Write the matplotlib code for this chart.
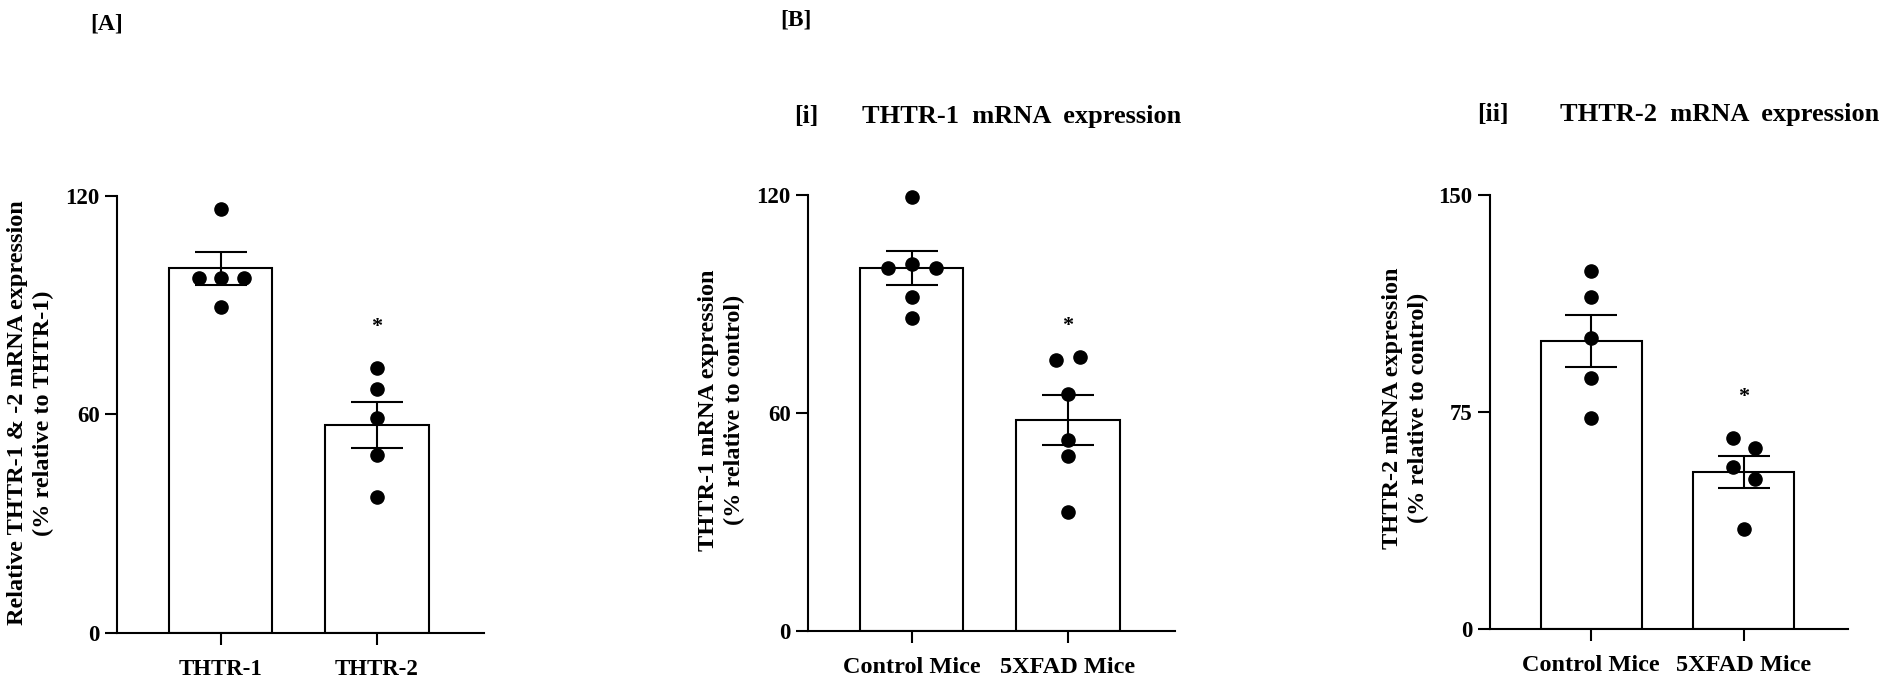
import matplotlib.pyplot as plt

plt.rcParams['font.family'] = ['Liberation Serif', 'DejaVu Serif']
plt.rcParams['font.weight'] = 'bold'

# ---------------------------
# Data
# ---------------------------

a_groups = ["THTR-1", "THTR-2"]
a_means = [100.0, 57.0]
a_sem = [4.5, 6.3]
a_thtr1 = [116.4, 97.3, 97.3, 97.3, 89.5]
a_thtr2 = [72.6, 66.8, 58.9, 48.9, 37.4]
a_star = 84

b_groups = ["Control Mice", "5XFAD Mice"]

bi_means = [100.0, 58.2]
bi_sem = [4.7, 6.8]
bi_control = [119.6, 101.2, 99.9, 99.9, 92.0, 86.3]
bi_5xfad = [74.8, 75.4, 65.2, 52.6, 48.3, 32.8]
bi_star = 84

bii_means = [99.5, 54.3]
bii_sem = [9.1, 5.4]
bii_control = [123.8, 114.7, 100.6, 86.6, 72.8]
bii_5xfad = [66.1, 62.5, 56.1, 51.9, 34.7]
bii_star = 80

# horizontal spread of the dots (beeswarm placement)
a_jit = ([0, -0.14, 0, 0.15, 0], [0, 0, 0, 0, 0])
bi_jit = ([0, 0, -0.154, 0.154, 0, 0], [-0.077, 0.077, 0, 0, 0, 0])
bii_jit = ([0, 0, 0, 0, 0], [-0.072, 0.075, -0.072, 0.075, 0])

W, H = 1896, 684
fig = plt.figure(figsize=(W / 100, H / 100), dpi=100)


def px_axes(x0, x1, y0, y1):
    return fig.add_axes([x0 / W, 1 - y1 / H, (x1 - x0) / W, (y1 - y0) / H])


def bar_panel(ax, groups, means, sem, points, jitter, ymax, yticks, star,
              xlab_size):
    x = [0, 1]
    ax.bar(x, means, width=0.66, color="white", edgecolor="black",
           linewidth=1.5, zorder=2)
    ax.errorbar(x, means, yerr=sem, fmt="none", ecolor="black",
                elinewidth=1.5, capsize=18.5, capthick=1.5, zorder=3)
    for i, vals in enumerate(points):
        xs = [x[i] + j for j in jitter[i]]
        ax.scatter(xs, vals, s=90, color="black", zorder=4, clip_on=False)
    ax.text(1, star, "*", ha="center", va="center", fontsize=16)

    ax.set_xlim(-0.665, 1.685)
    ax.set_ylim(0, ymax)
    ax.set_xticks(x)
    ax.set_xticklabels(groups)
    ax.set_yticks(yticks)
    for side in ["top", "right"]:
        ax.spines[side].set_visible(False)
    for side in ["left", "bottom"]:
        ax.spines[side].set_linewidth(1.5)
    ax.tick_params(axis="both", direction="out", length=8.5, width=1.5,
                   labelsize=16.5)
    ax.tick_params(axis="x", pad=10, labelsize=xlab_size)
    ax.tick_params(axis="y", pad=4)


ax_a = px_axes(117, 484, 195.5, 633)
bar_panel(ax_a, a_groups, a_means, a_sem, [a_thtr1, a_thtr2], a_jit,
          120, [0, 60, 120], a_star, 16.5)

ax_bi = px_axes(808, 1175, 195.3, 631.3)
bar_panel(ax_bi, b_groups, bi_means, bi_sem, [bi_control, bi_5xfad], bi_jit,
          120, [0, 60, 120], bi_star, 17.5)

ax_bii = px_axes(1490, 1848, 194.6, 629.2)
bar_panel(ax_bii, b_groups, bii_means, bii_sem, [bii_control, bii_5xfad],
          bii_jit, 150, [0, 75, 150], bii_star, 17.5)

# y labels
ylab_kw = dict(rotation=90, ha="center", va="center", fontsize=17.5,
               linespacing=1.3, multialignment="center")
fig.text(31 / W, 1 - 413 / H,
         "Relative THTR-1 & -2 mRNA expression\n(% relative to THTR-1)",
         **ylab_kw)
fig.text(722 / W, 1 - 410 / H,
         "THTR-1 mRNA expression\n(% relative to control)", **ylab_kw)
fig.text(1406 / W, 1 - 408 / H,
         "THTR-2 mRNA expression\n(% relative to control)", **ylab_kw)

# panel letters and titles
fig.text(90 / W, 1 - 24 / H, "[A]", ha="left", va="center", fontsize=17)
fig.text(780 / W, 1 - 20 / H, "[B]", ha="left", va="center", fontsize=17)
fig.text(794 / W, 1 - 116 / H, "[i]", ha="left", va="center", fontsize=18.5)
fig.text(862 / W, 1 - 116 / H, "THTR-1  mRNA  expression", ha="left",
         va="center", fontsize=19)
fig.text(1477 / W, 1 - 114 / H, "[ii]", ha="left", va="center", fontsize=18.5)
fig.text(1560 / W, 1 - 114 / H, "THTR-2  mRNA  expression", ha="left",
         va="center", fontsize=19)

fig.savefig("out.png", dpi=100)
